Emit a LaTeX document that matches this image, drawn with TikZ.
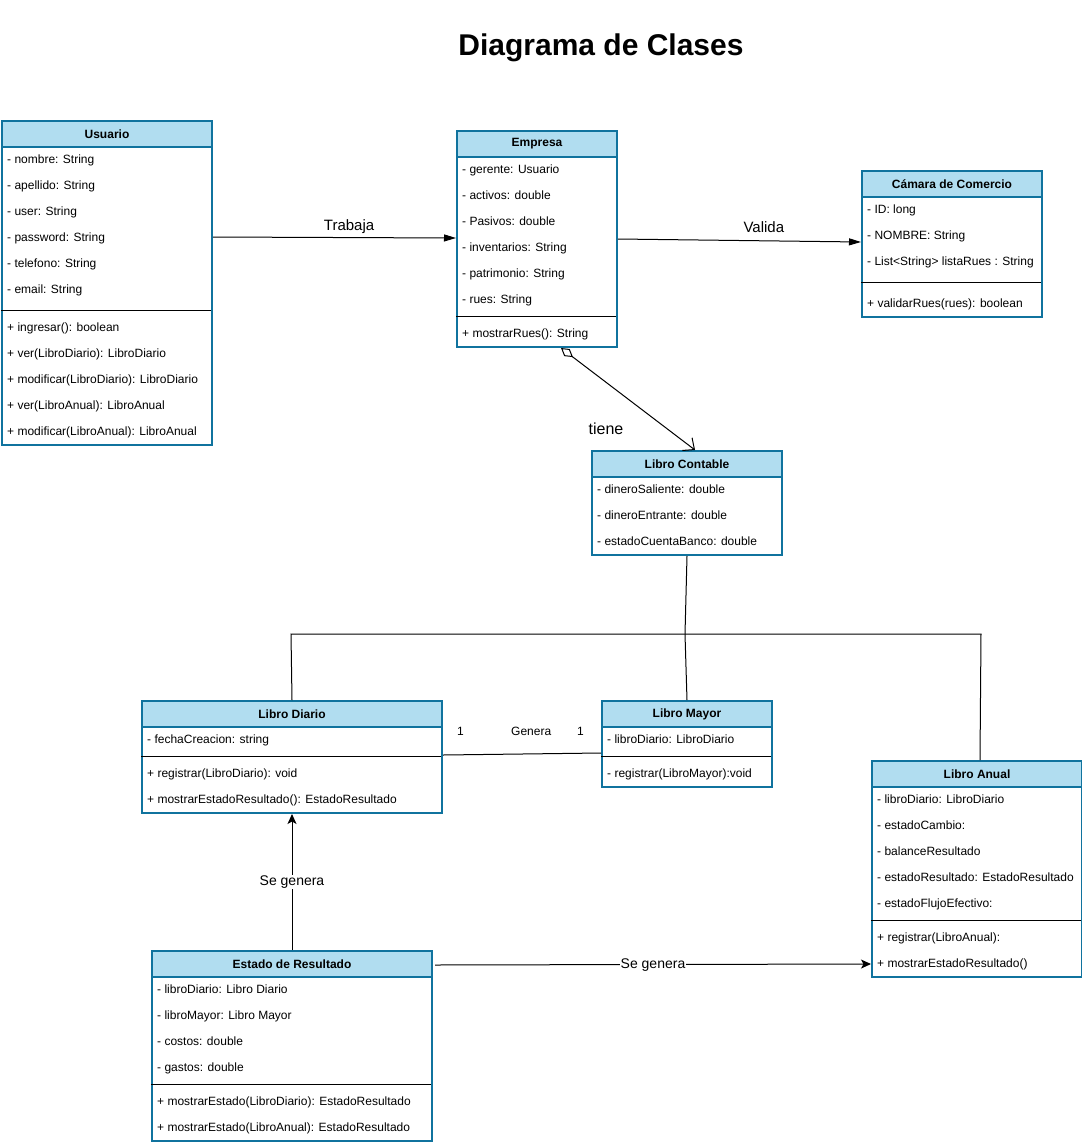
\documentclass[tikz,border=0pt]{standalone}
\usepackage{fontspec}
\setmainfont{Liberation Sans}
\usetikzlibrary{arrows.meta}
\definecolor{headfill}{HTML}{B1DDF0}
\definecolor{headline}{HTML}{10739E}
\tikzset{classbox/.style={draw=headline, line width=2pt, fill=white, anchor=north west, inner sep=0pt},
  classhead/.style={draw=headline, line width=2pt, fill=headfill, anchor=north west, minimum height=26pt,
    inner sep=0pt, font=\fontsize{12}{14}\selectfont\bfseries},
  attr/.style={anchor=base west, inner sep=0pt, font=\fontsize{12}{14}\selectfont},
  sepline/.style={black, line width=1pt},
  link/.style={black, line width=1pt},
  assoc/.style={link, -{Triangle[length=12pt,width=7pt]}},
  gen/.style={link, -{Stealth[length=10pt,width=9pt,inset=2.5pt]}},
  agg/.style={link, {Diamond[open,length=15pt,width=9pt]}-{Straight Barb[length=9pt,width=16pt]}},
  lbl/.style={inner sep=1pt, font=\fontsize{15}{18}\selectfont}}

\begin{document}
\begin{tikzpicture}[x=1pt,y=-1pt]
  \useasboundingbox (0,0) rectangle (1082,1144);
  \node[font=\fontsize{30}{36}\selectfont\bfseries] (title) at (601,48) {Diagrama de Clases};

  \begin{scope}[shift={(1,120)}]
   \node[classbox, minimum width=210pt, minimum height=324pt] (usuario) at (0,0) {};
   \node[classhead, minimum width=210pt] (usuarioh) at (0,0) {Usuario};
   \foreach \t [count=\i from 0] in {- nombre: String, - apellido: String, - user: String,
       - password: String, - telefono: String, - email: String}
     \node[attr] at (6,{43+26*\i}) {\t};
   \draw[sepline] (0,190) -- (210,190);
   \foreach \t [count=\i from 0] in {+ ingresar(): boolean, + ver(LibroDiario): LibroDiario,
       + modificar(LibroDiario): LibroDiario, + ver(LibroAnual): LibroAnual,
       + modificar(LibroAnual): LibroAnual}
     \node[attr] at (6,{211+26*\i}) {\t};
  \end{scope}

  \begin{scope}[shift={(456,130)}]
   \node[classbox, minimum width=160pt, minimum height=216pt] (empresa) at (0,0) {};
   \node[classhead, minimum width=160pt] (empresah) at (0,0) {Empresa};
   \foreach \t [count=\i from 0] in {- gerente: Usuario, - activos: double, - Pasivos: double,
       - inventarios: String, - patrimonio: String, - rues: String}
     \node[attr] at (6,{43+26*\i}) {\t};
   \draw[sepline] (0,186) -- (160,186);
   \node[attr] at (6,207) {+ mostrarRues(): String};
  \end{scope}

  \begin{scope}[shift={(861,170)}]
   \node[classbox, minimum width=180pt, minimum height=146pt] (camara) at (0,0) {};
   \node[classhead, minimum width=180pt] (camarah) at (0,0) {Cámara de Comercio};
   \foreach \t [count=\i from 0] in {- ID: long, - NOMBRE: String, - List<String> listaRues : String}
     \node[attr] at (6,{43+26*\i}) {\t};
   \draw[sepline] (0,112) -- (180,112);
   \node[attr] at (6,137) {+ validarRues(rues): boolean};
  \end{scope}

  \begin{scope}[shift={(591,450)}]
   \node[classbox, minimum width=190pt, minimum height=104pt] (lcontable) at (0,0) {};
   \node[classhead, minimum width=190pt] (lcontableh) at (0,0) {Libro Contable};
   \foreach \t [count=\i from 0] in {- dineroSaliente: double, - dineroEntrante: double,
       - estadoCuentaBanco: double}
     \node[attr] at (6,{43+26*\i}) {\t};
  \end{scope}

  \begin{scope}[shift={(141,700)}]
   \node[classbox, minimum width=300pt, minimum height=112pt] (ldiario) at (0,0) {};
   \node[classhead, minimum width=300pt] (ldiarioh) at (0,0) {Libro Diario};
   \node[attr] at (6,43) {- fechaCreacion: string};
   \draw[sepline] (0,56) -- (300,56);
   \node[attr] at (6,77) {+ registrar(LibroDiario): void};
   \node[attr] at (6,103) {+ mostrarEstadoResultado(): EstadoResultado};
  \end{scope}

  \begin{scope}[shift={(601,700)}]
   \node[classbox, minimum width=170pt, minimum height=86pt] (lmayor) at (0,0) {};
   \node[classhead, minimum width=170pt] (lmayorh) at (0,0) {Libro Mayor};
   \node[attr] at (6,43) {- libroDiario: LibroDiario};
   \draw[sepline] (0,56) -- (170,56);
   \node[attr] at (6,77) {- registrar(LibroMayor):void};
  \end{scope}

  \begin{scope}[shift={(871,760)}]
   \node[classbox, minimum width=210pt, minimum height=216pt] (lanual) at (0,0) {};
   \node[classhead, minimum width=210pt] (lanualh) at (0,0) {Libro Anual};
   \foreach \t [count=\i from 0] in {- libroDiario: LibroDiario, - estadoCambio:,
       - balanceResultado, - estadoResultado: EstadoResultado, - estadoFlujoEfectivo:}
     \node[attr] at (6,{43+26*\i}) {\t};
   \draw[sepline] (0,160) -- (210,160);
   \node[attr] at (6,181) {+ registrar(LibroAnual):};
   \node[attr] at (6,207) {+ mostrarEstadoResultado()};
  \end{scope}

  \begin{scope}[shift={(151,950)}]
   \node[classbox, minimum width=280pt, minimum height=190pt] (eresult) at (0,0) {};
   \node[classhead, minimum width=280pt] (eresulth) at (0,0) {Estado de Resultado};
   \foreach \t [count=\i from 0] in {- libroDiario: Libro Diario, - libroMayor: Libro Mayor,
       - costos: double, - gastos: double}
     \node[attr] at (6,{43+26*\i}) {\t};
   \draw[sepline] (0,134) -- (280,134);
   \node[attr] at (6,155) {+ mostrarEstado(LibroDiario): EstadoResultado};
   \node[attr] at (6,181) {+ mostrarEstado(LibroAnual): EstadoResultado};
  \end{scope}

  % relaciones
  \draw[assoc] (usuario.east |- 0,237) -- node[lbl, pos=0.56, yshift=11pt] {Trabaja} (empresa.west |- 0,238);
  \draw[assoc] (empresa.east |- 0,239) -- node[lbl, pos=0.6, yshift=14pt] {Valida} (camara.west |- 0,242);
  \draw[agg] (561,0 |- empresa.south) -- (695,0 |- lcontable.north);
  \node[lbl, font=\fontsize{16}{19}\selectfont] (tiene) at (606,429) {tiene};

  \coordinate (jl) at (291,634);
  \coordinate (jn) at (685,634);
  \coordinate (jr) at (981,634);
  \draw[link] (ldiario.north) -- (jl) -- (jr) -- ([xshift=3pt]lanual.north);
  \draw[link] (lcontable.south) -- (jn) -- (lmayor.north);

  \draw[link] (ldiario.east |- 0,755) -- (lmayor.west |- 0,753);
  \node[attr] (m1) at (457,735) {1};
  \node[attr] (genera) at (511,735) {Genera};
  \node[attr] (m2) at (577,735) {1};

  \draw[gen] (eresult.north) -- node[lbl, fill=white, font=\fontsize{14}{17}\selectfont] {Se genera} (ldiario.south);
  \draw[gen] ([xshift=2pt]eresult.east |- 0,965) -- node[lbl, fill=white, font=\fontsize{14}{17}\selectfont, yshift=-1pt] {Se genera} (lanual.west |- 0,964);
\end{tikzpicture}
\end{document}
